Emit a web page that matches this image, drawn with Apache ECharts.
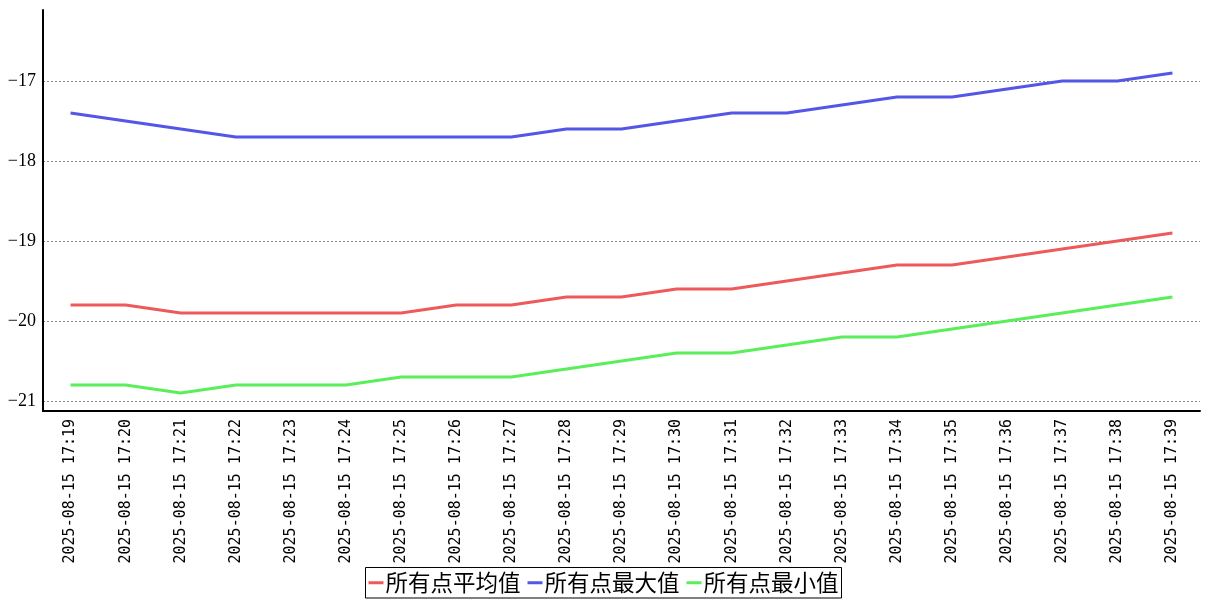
<!DOCTYPE html>
<html><head><meta charset="utf-8">
<script src="https://cdn.jsdelivr.net/npm/echarts@6/dist/echarts.min.js"></script>
<style>html,body{margin:0;padding:0;background:#fff}#c{width:1207px;height:600px}</style>
</head><body><div id="c"></div>
<script>
const categories = ["2025-08-15 17:19","2025-08-15 17:20","2025-08-15 17:21","2025-08-15 17:22","2025-08-15 17:23","2025-08-15 17:24","2025-08-15 17:25","2025-08-15 17:26","2025-08-15 17:27","2025-08-15 17:28","2025-08-15 17:29","2025-08-15 17:30","2025-08-15 17:31","2025-08-15 17:32","2025-08-15 17:33","2025-08-15 17:34","2025-08-15 17:35","2025-08-15 17:36","2025-08-15 17:37","2025-08-15 17:38","2025-08-15 17:39"];
const avgValues = [-19.8,-19.8,-19.9,-19.9,-19.9,-19.9,-19.9,-19.8,-19.8,-19.7,-19.7,-19.6,-19.6,-19.5,-19.4,-19.3,-19.3,-19.2,-19.1,-19.0,-18.9];
const maxValues = [-17.4,-17.5,-17.6,-17.7,-17.7,-17.7,-17.7,-17.7,-17.7,-17.6,-17.6,-17.5,-17.4,-17.4,-17.3,-17.2,-17.2,-17.1,-17.0,-17.0,-16.9];
const minValues = [-20.8,-20.8,-20.9,-20.8,-20.8,-20.8,-20.7,-20.7,-20.7,-20.6,-20.5,-20.4,-20.4,-20.3,-20.2,-20.2,-20.1,-20.0,-19.9,-19.8,-19.7];
const yTicks = [-21,-20,-19,-18,-17];
const seriesNames = ["所有点平均值","所有点最大值","所有点最小值"];
const colors = ["#ee5a5a","#5555e8","#5aee5a"];

const chart = echarts.init(document.getElementById('c'));
const mk = (name, data, color) => ({
  name, type: 'line', data, symbol: 'none', smooth: false,
  lineStyle: { width: 3, color }, itemStyle: { color }
});
chart.setOption({
  animation: false,
  backgroundColor: '#fff',
  grid: { left: 43, right: 7, top: 10, bottom: 189, containLabel: false },
  legend: {
    bottom: 2, left: 'center',
    data: seriesNames,
    icon: 'rect', itemWidth: 15, itemHeight: 3, itemGap: 7,
    borderColor: '#000', borderWidth: 1, padding: [4, 3, 4, 3],
    textStyle: { fontFamily: 'Noto Sans CJK SC', fontSize: 22.5, color: '#000', padding: [0, 0, 0, -3] }
  },
  xAxis: {
    type: 'category', data: categories, boundaryGap: true,
    axisLine: { lineStyle: { color: '#000', width: 2 } },
    axisTick: { alignWithLabel: true, length: 5, lineStyle: { color: '#000' } },
    axisLabel: { rotate: 90, interval: 0, fontFamily: 'DejaVu Sans Mono', fontSize: 15, color: '#000', margin: 8 }
  },
  yAxis: {
    type: 'value', min: -21.125, max: -16.1125, scale: true,
    axisLine: { show: true, lineStyle: { color: '#000', width: 2 } },
    axisTick: { show: false, customValues: yTicks },
    axisLabel: { customValues: yTicks, fontFamily: 'Liberation Serif', fontSize: 18, color: '#000', margin: 7,
      formatter: v => String(v).replace('-', '\u2212') },
    splitLine: { show: true, lineStyle: { type: [2, 2], color: '#888', width: 1 } }
  },
  series: [mk(seriesNames[0], avgValues, colors[0]), mk(seriesNames[1], maxValues, colors[1]), mk(seriesNames[2], minValues, colors[2])]
});
</script></body></html>
